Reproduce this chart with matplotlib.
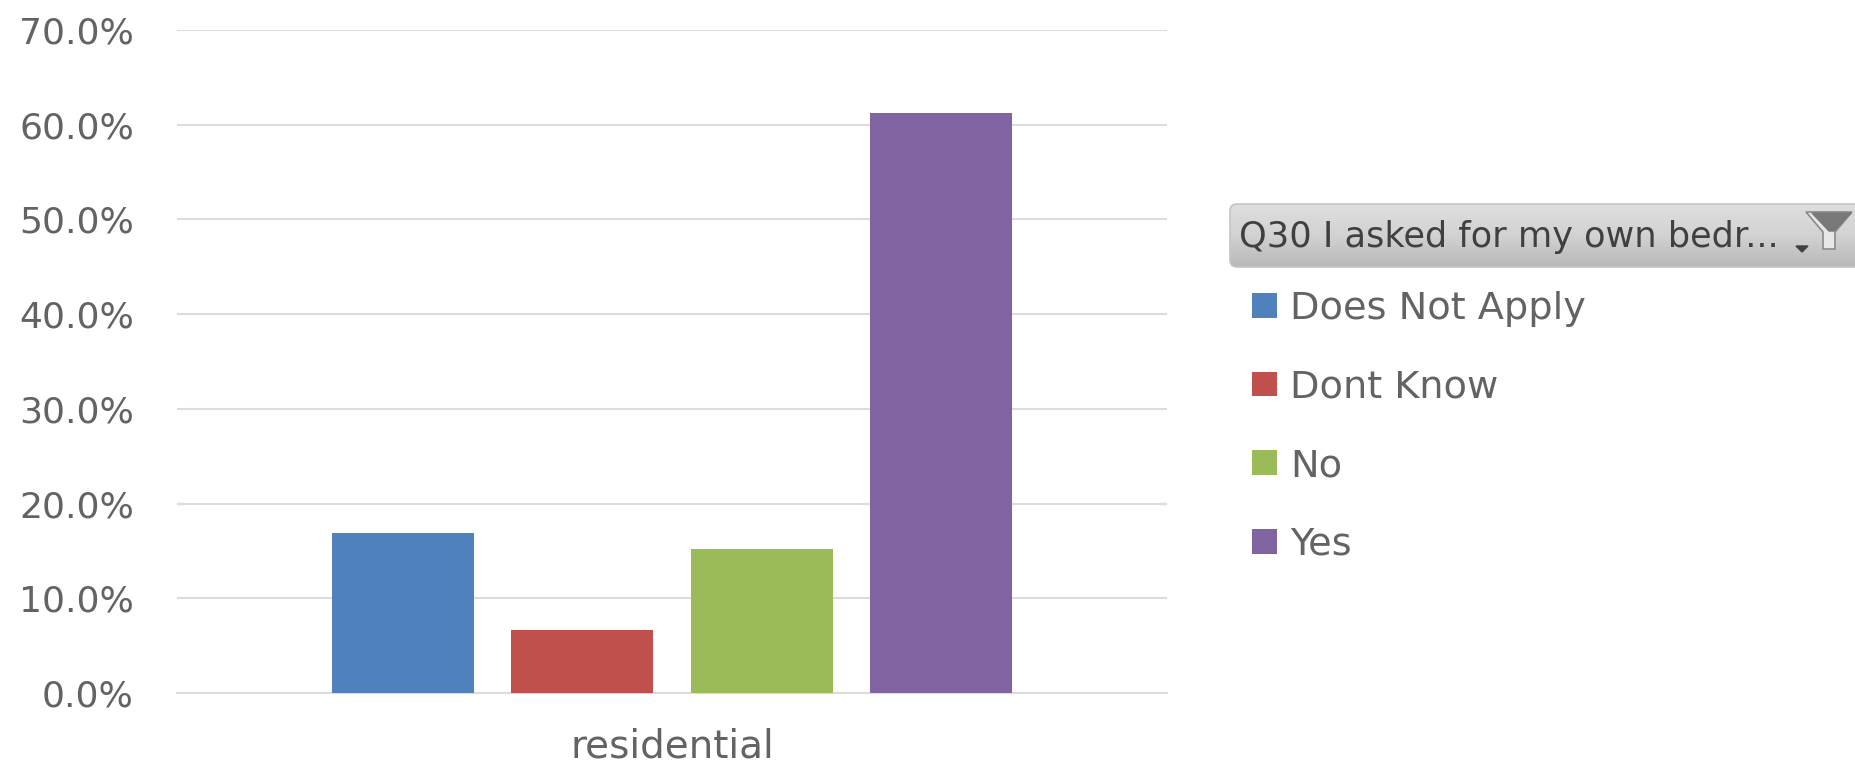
import numpy as np
import matplotlib
matplotlib.use("Agg")
import matplotlib.pyplot as plt
from matplotlib.patches import FancyBboxPatch, Polygon
from matplotlib.ticker import PercentFormatter

categories = ["residential"]
series = ["Does Not Apply", "Dont Know", "No", "Yes"]
values = [16.9, 6.65, 15.2, 61.2]
colors = ["#4F81BD", "#C0504D", "#9BBB59", "#8064A2"]
y_ticks = [0, 10, 20, 30, 40, 50, 60, 70]
filter_label = "Q30 I asked for my own bedr..."

W, H = 1855, 765
plt.rcParams["font.family"] = ["DejaVu Sans"]
TXT = "#636363"

fig = plt.figure(figsize=(W / 100, H / 100), dpi=100)
# 플롯 영역 (픽셀 기준)
ax = fig.add_axes([177 / W, 1 - 693 / H, 990 / W, 663 / H])

bar_w = 0.1435
pitch = 0.1813
offsets = (np.arange(len(series)) - 1.5) * pitch
handles = []
for off, v, c, s in zip(offsets, values, colors, series):
    b = ax.bar(off, v, width=bar_w, color=c, label=s, zorder=3)
    handles.append(b)

ax.set_xlim(-0.5, 0.5)
ax.set_ylim(0, 70)
ax.set_yticks(y_ticks)
ax.yaxis.set_major_formatter(PercentFormatter(decimals=1))
ax.set_xticks([0])
ax.set_xticklabels(categories)
ax.tick_params(axis="both", length=0, labelsize=26, labelcolor=TXT)
ax.tick_params(axis="y", pad=31)
ax.tick_params(axis="x", pad=25, labelsize=28)
ax.grid(axis="y", color="#DCDCDC", linewidth=1.5, zorder=0)
for sp in ["top", "right", "left"]:
    ax.spines[sp].set_visible(False)
ax.spines["bottom"].set_color("#DCDCDC")
ax.spines["bottom"].set_linewidth(1.5)
for lab in ax.get_yticklabels():
    lab.set_clip_on(False)

fig.legend(handles=handles, labels=series, loc="upper left",
           bbox_to_anchor=(1244 / W, 1 - 283 / H), frameon=False,
           fontsize=27.5, labelcolor=TXT, handlelength=0.67, handleheight=0.62,
           handletextpad=0.34, labelspacing=1.12, borderpad=0.2, borderaxespad=0)

# 필터 버튼: 위에서 아래로 회색 그라디언트
over = fig.add_axes([0, 0, 1, 1], facecolor="none")
over.set_xlim(0, W)
over.set_ylim(H, 0)
over.axis("off")
box = FancyBboxPatch((1230, 204), 640, 63, boxstyle="round,pad=0,rounding_size=7",
                     facecolor="none", edgecolor="#C4C4C4", linewidth=1.2, zorder=3)
over.add_patch(box)
grad = np.linspace(0, 1, 64).reshape(-1, 1)
cmap = matplotlib.colors.LinearSegmentedColormap.from_list("btn", ["#DEDEDE", "#D2D2D2", "#B8B8B8"])
img = over.imshow(grad, extent=(1230, 1870, 267, 204), cmap=cmap, aspect="auto", zorder=2)
img.set_clip_path(box)
over.set_xlim(0, W)
over.set_ylim(H, 0)
over.text(1239, 237, filter_label, fontsize=25.3, color="#404040", va="center", ha="left", zorder=4)
# 드롭다운 화살표와 깔때기 아이콘
over.add_patch(Polygon([(1796, 246), (1808, 246), (1802, 252)], color="#404040", zorder=4))
over.add_patch(Polygon([(1806, 212), (1852, 212), (1835, 232), (1835, 249), (1823, 249), (1823, 232)],
                       facecolor="#E6E6E6", edgecolor="#8A8A8A", linewidth=1.2, zorder=4))
over.add_patch(Polygon([(1812, 213), (1851, 213), (1834, 231), (1829, 231)], color="#787878", zorder=5))

fig.savefig("out.png", dpi=100)
